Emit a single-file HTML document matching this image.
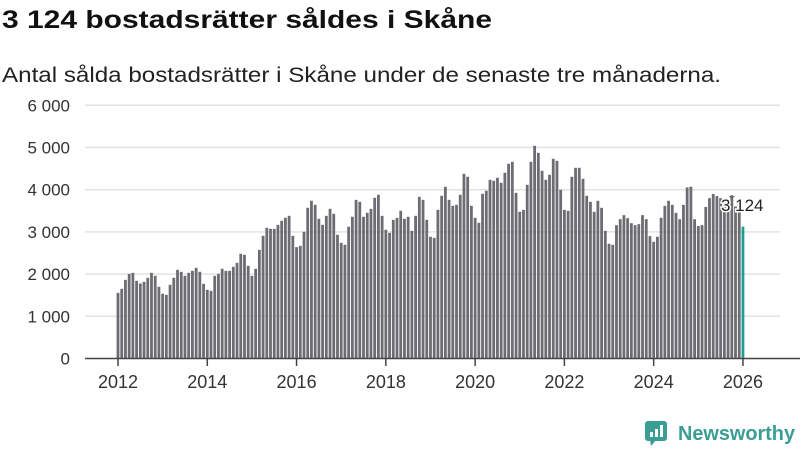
<!DOCTYPE html>
<html><head><meta charset="utf-8"><style>
body{margin:0;background:#fff;width:800px;height:450px;overflow:hidden;font-family:"Liberation Sans","DejaVu Sans",sans-serif;}
svg{position:absolute;left:0;top:0}
</style></head><body>
<svg id="c" width="800" height="450">
<text x="2" y="28" font-size="25" font-weight="bold" fill="#111" textLength="490" lengthAdjust="spacingAndGlyphs">3 124 bostadsrätter såldes i Skåne</text>
<text x="2" y="82" font-size="21" fill="#222" textLength="719" lengthAdjust="spacingAndGlyphs">Antal sålda bostadsrätter i Skåne under de senaste tre månaderna.</text>
<g id="grid"></g><g id="bars"></g><g id="xaxis"></g>
<g>
<rect x="645" y="421" width="22" height="20" rx="3" fill="#3a9e94"/>
<polygon points="650,440 656,440 651,446" fill="#3a9e94"/>
<rect x="650" y="432" width="3" height="5" fill="#fff"/><rect x="655" y="429" width="3" height="8" fill="#fff"/><rect x="660" y="425" width="3" height="12" fill="#fff"/>
<text x="678" y="440" font-size="20" font-weight="bold" fill="#3a9e94" textLength="117" lengthAdjust="spacingAndGlyphs">Newsworthy</text>
</g>
</svg>
<script>
const values=[1556,1651,1864,2007,2030,1841,1778,1817,1912,2030,1959,1699,1533,1509,1746,1912,2101,2054,1959,2030,2077,2149,2054,1770,1628,1604,1959,2007,2125,2077,2077,2172,2267,2481,2457,2196,1959,2125,2575,2907,3097,3073,3073,3168,3263,3334,3381,2907,2639,2670,3002,3571,3737,3642,3310,
3168,3381,3547,3429,2931,2741,2694,3121,3358,3760,3713,3358,3452,3547,3808,3879,3381,3050,2978,3286,3334,3500,3310,3358,3026,3381,3832,3760,3286,2884,2860,3523,3855,4069,3760,3618,3642,3879,4377,4306,3618,3334,3215,3903,3974,4234,4211,4282,4163,4400,4614,4661,3926,3476,3523,4116,
4661,5040,4874,4447,4234,4353,4732,4685,3997,3523,3500,4306,4519,4519,4258,3855,3713,3476,3737,3571,3026,2718,2694,3160,3302,3397,3326,3207,3160,3184,3397,3302,2899,2765,2884,3334,3618,3737,3642,3452,
3300,3640,4055,4070,3300,3140,3160,3590,3800,3900,3850,3800,3700,3650,3870,3600,3470,3124];
const yTicks=[0,1000,2000,3000,4000,5000,6000];
const yLabels=["0","1 000","2 000","3 000","4 000","5 000","6 000"];
const xYears=[2012,2014,2016,2018,2020,2022,2024,2026];
const NS="http://www.w3.org/2000/svg";
const y=v=>358.5-v*0.0422;
const x=i=>118+i*3.72;
const xy=yr=>x((yr-2012)*12);
function mk(t,a,p){const e=document.createElementNS(NS,t);for(const k in a)e.setAttribute(k,a[k]);p.appendChild(e);return e;}
const grid=document.getElementById('grid');
yTicks.forEach((v,i)=>{
 if(v>0){const l=mk('line',{x1:85,x2:780,y1:y(v),y2:y(v),stroke:'#e2e2e2','stroke-width':1.5},grid);
 
 }
 const t=mk('text',{x:70,y:y(v)+6,'text-anchor':'end','font-size':17,fill:'#333'},grid);t.textContent=yLabels[i];
 
 
});
const bars=document.getElementById('bars');
values.forEach((v,i)=>{
 const last=i===values.length-1;
 const r=mk('rect',{x:x(i)-1.4,y:y(v),width:2.8,height:358.5-y(v),fill:last?'#1f9e92':'#6d6c72'},bars);
 
 
});
const xa=document.getElementById('xaxis');
const al=mk('line',{x1:85,x2:800,y1:358.5,y2:358.5,stroke:'#444','stroke-width':1.5},xa);


xYears.forEach(yr=>{
 mk('line',{x1:xy(yr),x2:xy(yr),y1:358,y2:366,stroke:'#444','stroke-width':1.5},xa);
 const t=mk('text',{x:xy(yr),y:388,'text-anchor':'middle','font-size':18,fill:'#333'},xa);t.textContent=yr;
 
 
});
const li=values.length-1;
mk('polygon',{points:`${x(li-3)-3},196 ${x(li-3)+3},196 ${x(li-3)},200`,fill:'#6d6c72'},xa);
const lab=mk('text',{x:x(li)-22,y:211,'font-size':17,fill:'#222',stroke:'#fff','stroke-width':3,'paint-order':'stroke'},xa);
lab.textContent=values[li].toLocaleString('sv-SE').replace(/\s/g,' ');


</script>
</body></html>
